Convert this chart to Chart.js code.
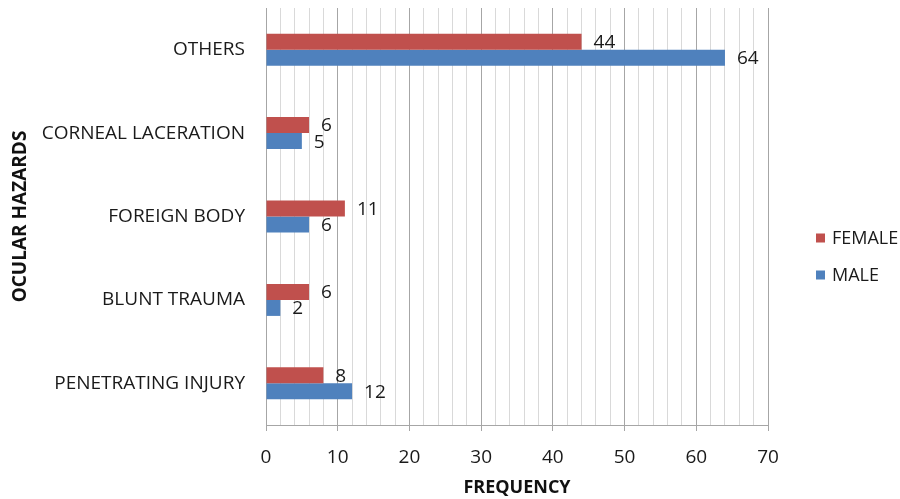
<!DOCTYPE html>
<html>
<head>
<meta charset="utf-8">
<script src="https://cdn.jsdelivr.net/npm/chart.js@4.4.1/dist/chart.umd.min.js"></script>
<style>
  html, body { margin: 0; padding: 0; background: #ffffff; }
  #wrap { width: 900px; height: 499px; position: relative; }
</style>
</head>
<body>
<div id="wrap"><canvas id="chart" width="900" height="499"></canvas></div>
<script>
// Ocular hazards by sex (counts)
const categories = ["OTHERS", "CORNEAL LACERATION", "FOREIGN BODY", "BLUNT TRAUMA", "PENETRATING INJURY"];
const femaleValues = [44, 6, 11, 6, 8];
const maleValues = [64, 5, 6, 2, 12];
const xTickLabels = [0, 10, 20, 30, 40, 50, 60, 70];

const FONT = "'Open Sans', 'Liberation Sans', sans-serif";
const TEXT = '#1a1a1a';

// Writes each bar's value just past the end of the bar
const valueLabels = {
  id: 'valueLabels',
  afterDatasetsDraw(chart) {
    const ctx = chart.ctx;
    ctx.save();
    ctx.font = "19px " + FONT;
    ctx.fillStyle = TEXT;
    ctx.textAlign = "left";
    ctx.textBaseline = "middle";
    chart.data.datasets.forEach((ds, di) => {
      const meta = chart.getDatasetMeta(di);
      meta.data.forEach((bar, i) => {
        ctx.fillText(String(ds.data[i]), bar.x + 12, bar.y + 1);
      });
    });
    ctx.restore();
  }
};

// Series key at the right, one row per dataset
const sideLegend = {
  id: 'sideLegend',
  afterDraw(chart) {
    const ctx = chart.ctx;
    ctx.save();
    ctx.font = "18px " + FONT;
    ctx.textAlign = "left";
    ctx.textBaseline = "middle";
    const x0 = 816, y0 = 238, rowGap = 37;
    chart.data.datasets.forEach((ds, di) => {
      const y = y0 + di * rowGap;
      ctx.fillStyle = ds.backgroundColor;
      ctx.fillRect(x0, y - 4.5, 9, 9);
      ctx.fillStyle = TEXT;
      ctx.fillText(ds.label, x0 + 16, y + 1);
    });
    ctx.restore();
  }
};

new Chart(document.getElementById('chart'), {
  type: 'bar',
  data: {
    labels: categories,
    datasets: [
      { label: 'FEMALE', data: femaleValues, backgroundColor: '#C0504D', borderWidth: 0 },
      { label: 'MALE', data: maleValues, backgroundColor: '#4F81BD', borderWidth: 0 }
    ]
  },
  options: {
    indexAxis: 'y',
    responsive: false,
    animation: false,
    devicePixelRatio: 1,
    layout: { padding: { top: 8, right: 132, bottom: 0, left: 0 } },
    datasets: { bar: { categoryPercentage: 0.384, barPercentage: 1.0 } },
    plugins: {
      legend: { display: false },
      tooltip: { enabled: false }
    },
    scales: {
      x: {
        type: 'linear',
        min: 0,
        max: 70,
        ticks: {
          stepSize: 2,
          autoSkip: false,
          maxRotation: 0,
          padding: 15,
          color: TEXT,
          font: { family: FONT, size: 19 },
          callback: (v) => xTickLabels.includes(v) ? String(v) : ''
        },
        grid: {
          color: (c) => (c.tick && c.tick.value % 10 === 0) ? '#a6a6a6' : '#d9d9d9',
          tickColor: (c) => (c.tick && c.tick.value % 10 === 0) ? '#a6a6a6' : 'rgba(0,0,0,0)',
          tickLength: 6,
          lineWidth: 1
        },
        border: { color: '#a6a6a6' },
        title: {
          display: true,
          text: 'FREQUENCY',
          color: '#111111',
          font: { family: FONT, size: 18, weight: 'bold' },
          padding: { top: 0, bottom: 0 }
        },
        afterFit: (scale) => {
          scale.height = 74;
          scale.paddingLeft = 0;
          scale.paddingRight = 0;
        }
      },
      y: {
        grid: { display: false },
        border: { display: true, color: '#a6a6a6' },
        ticks: {
          padding: 13,
          color: TEXT,
          font: { family: FONT, size: 19 }
        },
        title: {
          display: true,
          text: 'OCULAR HAZARDS',
          color: '#111111',
          font: { family: FONT, size: 19, weight: 'bold' },
          padding: { top: 9, bottom: 0 }
        },
        afterFit: (scale) => {
          scale.width = 266;
          scale.paddingTop = 0;
          scale.paddingBottom = 0;
        }
      }
    }
  },
  plugins: [valueLabels, sideLegend]
});
</script>
</body>
</html>
